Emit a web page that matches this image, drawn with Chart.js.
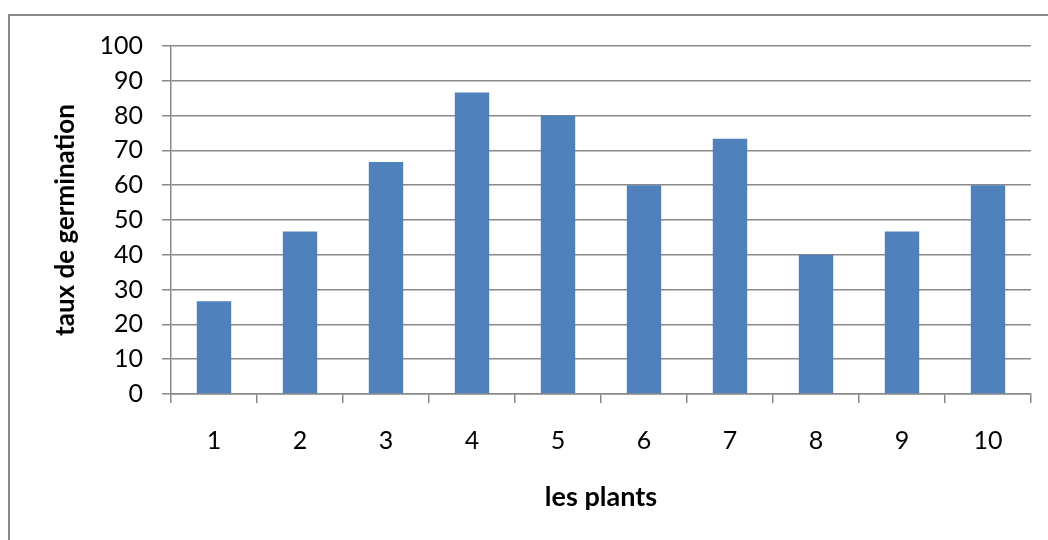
<!DOCTYPE html>
<html>
<head>
<meta charset="utf-8">
<script src="https://cdn.jsdelivr.net/npm/chart.js@4"></script>
<style>
  html, body { margin:0; padding:0; background:#fff; width:1048px; height:540px; overflow:hidden; }
  #frame { position:absolute; left:8px; top:14px; width:1100px; height:600px; border:2px solid #8a8a8a; box-sizing:border-box; }
  #c { position:absolute; left:0; top:0; }
</style>
</head>
<body>
<div id="frame"></div>
<canvas id="c" width="1048" height="540"></canvas>
<script>
const categories = ['1','2','3','4','5','6','7','8','9','10'];
const tauxGermination = [26.67, 46.67, 66.67, 86.67, 80, 60, 73.33, 40, 46.67, 60];
const yTitle = 'taux de germination';
const xTitle = 'les plants';

const FONT = 'Lato, Calibri, Carlito, sans-serif';
const GRID = '#8a8a8a';

new Chart(document.getElementById('c'), {
  type: 'bar',
  data: {
    labels: categories,
    datasets: [{
      data: tauxGermination,
      backgroundColor: '#4F81BD',
      borderWidth: 0,
      barPercentage: 0.5,
      categoryPercentage: 0.8
    }]
  },
  options: {
    responsive: false,
    animation: false,
    layout: { padding: { left: 40, top: 46, right: 17, bottom: 20 } },
    plugins: { legend: { display: false }, tooltip: { enabled: false } },
    scales: {
      x: {
        afterFit: s => { s.height = 126; },
        grid: { display: true, drawOnChartArea: false, color: GRID, lineWidth: 1.5, tickLength: 9, offset: true },
        border: { color: GRID, width: 1.5 },
        ticks: { color: '#000', font: { family: FONT, size: 25 }, padding: 23 },
        title: { display: true, text: xTitle, color: '#000', font: { family: FONT, size: 27, weight: 'bold' }, padding: { top: 20, bottom: 7 } }
      },
      y: {
        min: 0, max: 100,
        afterFit: s => { s.width = 131; },
        grid: { color: GRID, lineWidth: 1.5, tickLength: 9 },
        border: { color: GRID, width: 1.5 },
        ticks: { stepSize: 10, color: '#000', font: { family: FONT, size: 25 }, padding: 19 },
        title: { display: true, text: yTitle, color: '#000', font: { family: FONT, size: 26, weight: 'bold' }, padding: { top: 10, bottom: 8 } }
      }
    }
  }
});
</script>
</body>
</html>
